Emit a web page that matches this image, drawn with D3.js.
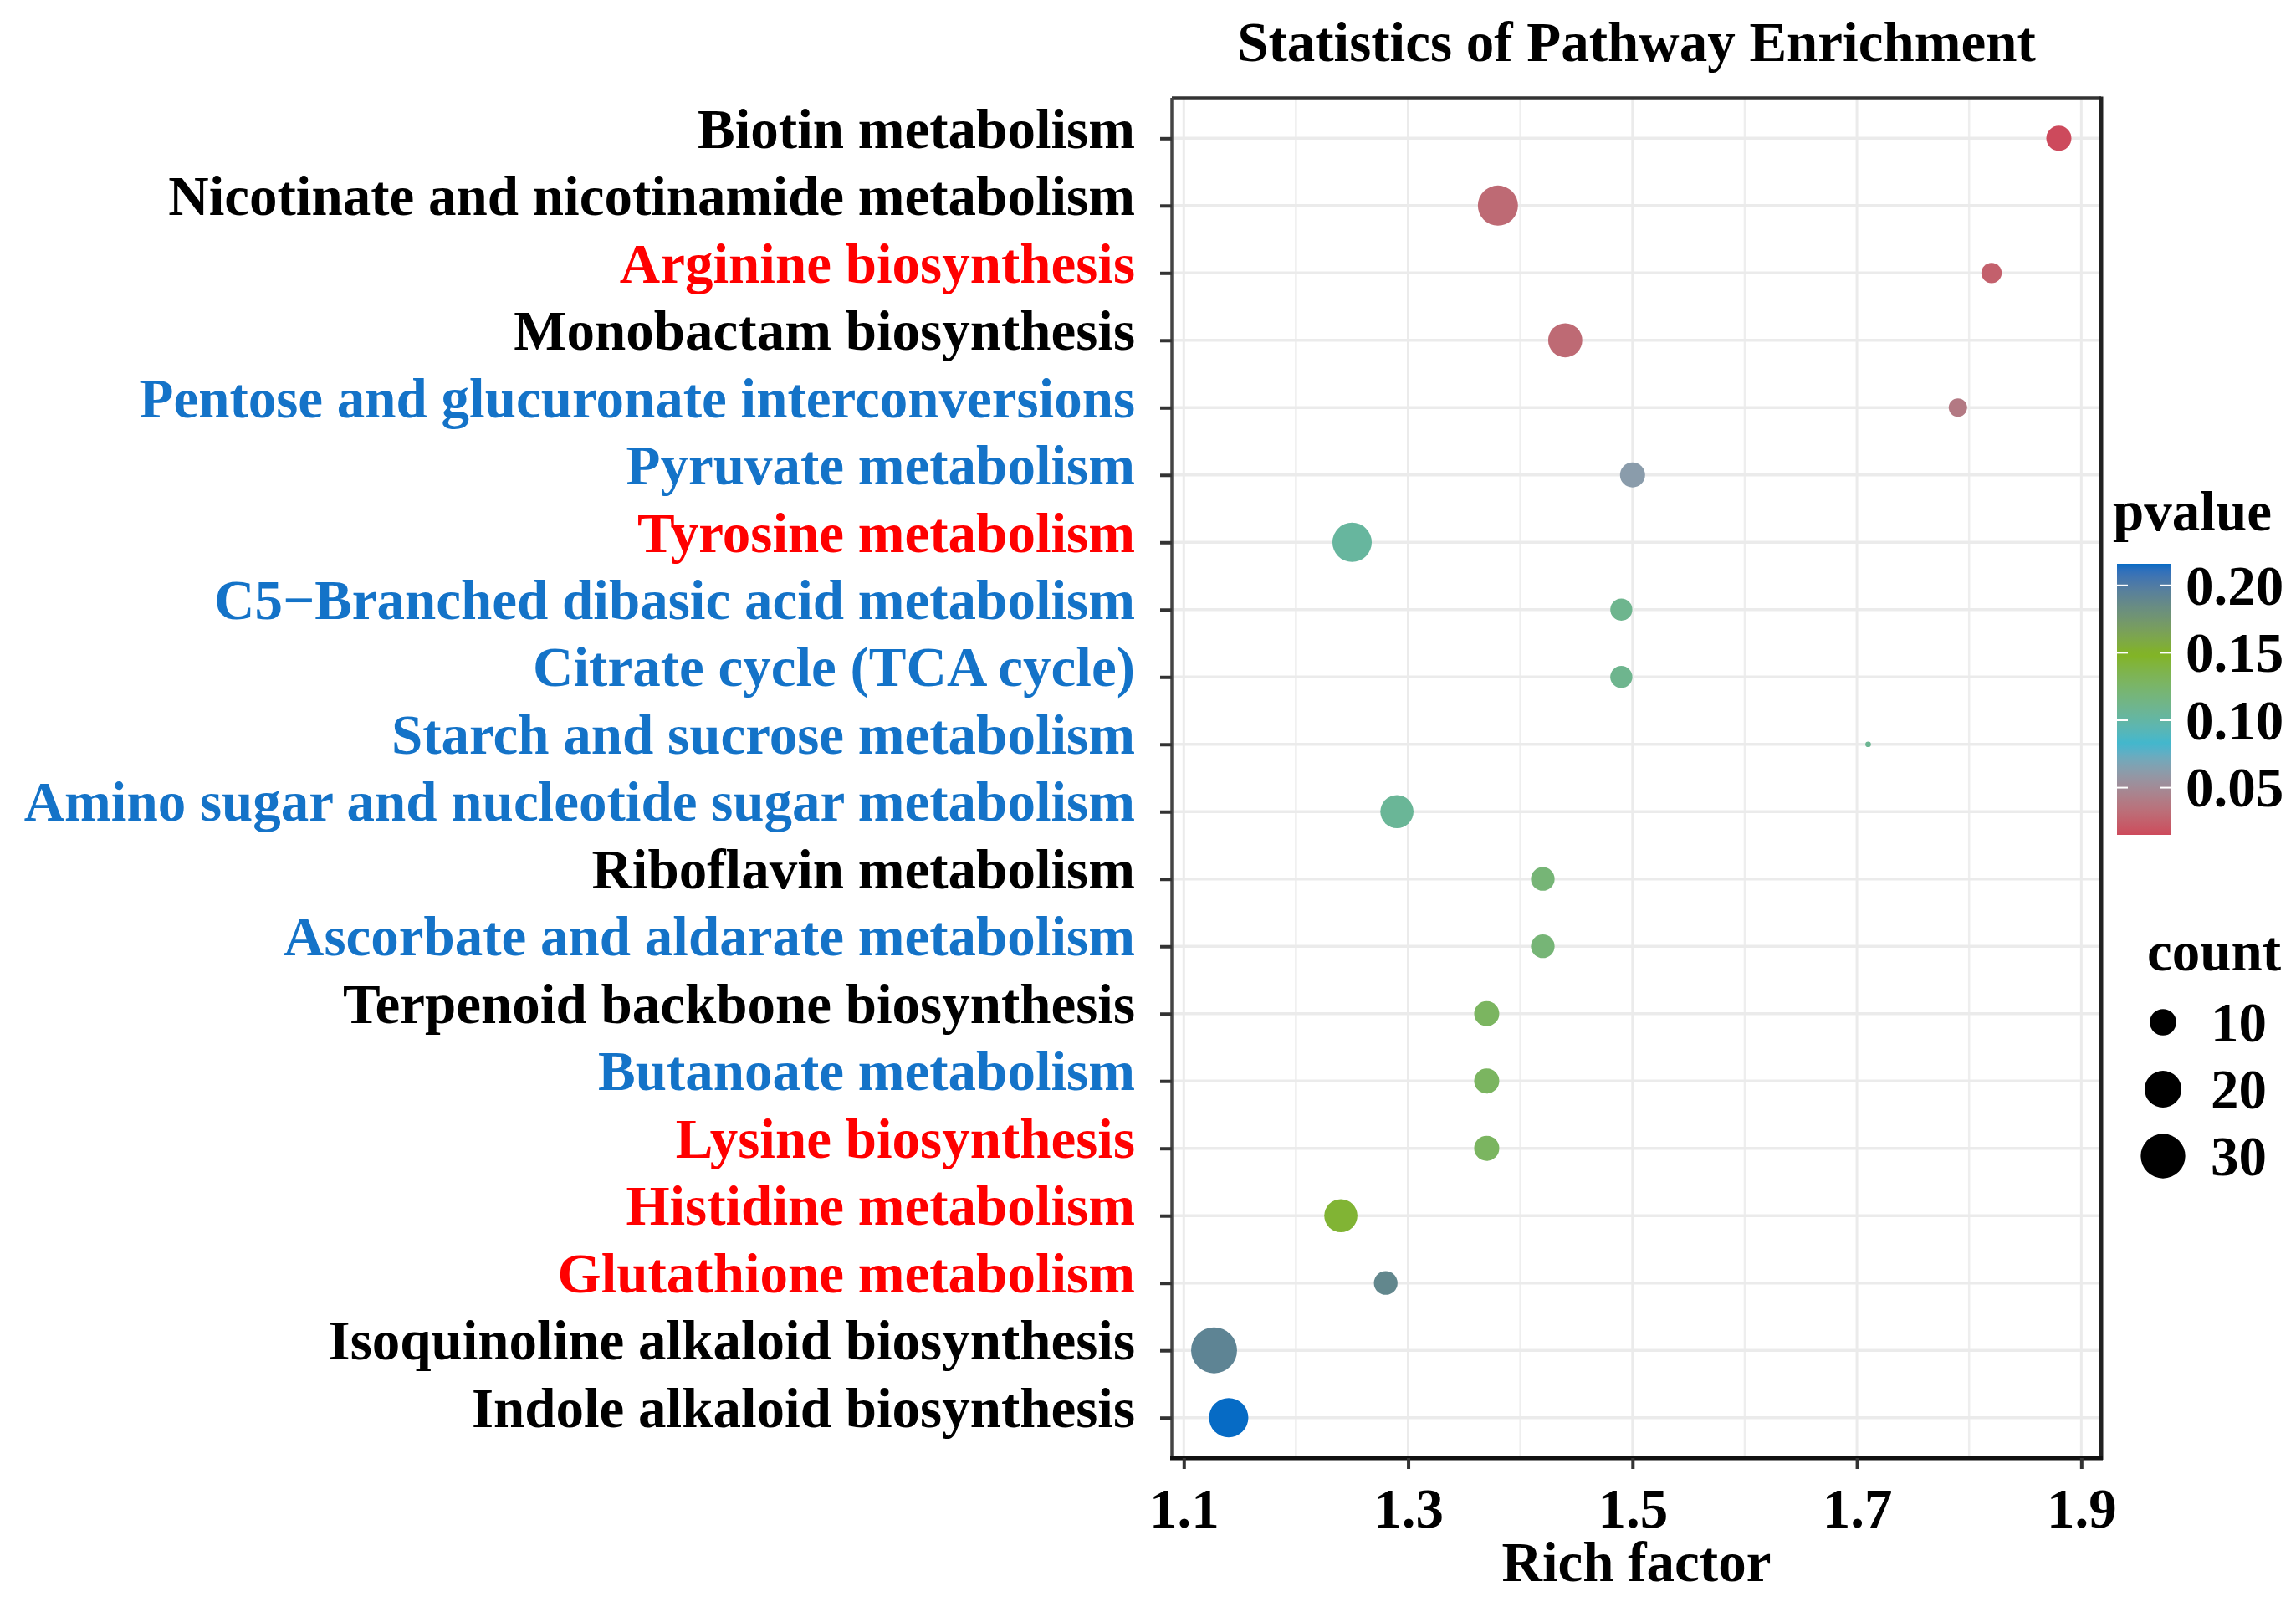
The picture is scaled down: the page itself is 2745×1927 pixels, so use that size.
<!DOCTYPE html>
<html>
<head>
<meta charset="utf-8">
<script src="https://cdn.jsdelivr.net/npm/d3@7"></script>
<style>
  html, body { margin: 0; padding: 0; background: #fff; }
  svg text { font-family: "Liberation Serif", "Times New Roman", serif; font-weight: bold; }
</style>
</head>
<body>
<div id="chart"></div>
<script>
// 数据
const pathways = [
  'Biotin metabolism',
  'Nicotinate and nicotinamide metabolism',
  'Arginine biosynthesis',
  'Monobactam biosynthesis',
  'Pentose and glucuronate interconversions',
  'Pyruvate metabolism',
  'Tyrosine metabolism',
  'C5\u2212Branched dibasic acid metabolism',
  'Citrate cycle (TCA cycle)',
  'Starch and sucrose metabolism',
  'Amino sugar and nucleotide sugar metabolism',
  'Riboflavin metabolism',
  'Ascorbate and aldarate metabolism',
  'Terpenoid backbone biosynthesis',
  'Butanoate metabolism',
  'Lysine biosynthesis',
  'Histidine metabolism',
  'Glutathione metabolism',
  'Isoquinoline alkaloid biosynthesis',
  'Indole alkaloid biosynthesis'
];
const richFactor = [1.88, 1.38, 1.82, 1.44, 1.79, 1.50, 1.25, 1.49, 1.49, 1.71,
                    1.29, 1.42, 1.42, 1.37, 1.37, 1.37, 1.24, 1.28, 1.127, 1.14];
const pvalues = [0.015, 0.030, 0.025, 0.030, 0.039, 0.062, 0.103, 0.110, 0.110, 0.108,
                 0.106, 0.120, 0.120, 0.129, 0.129, 0.129, 0.144, 0.189, 0.192, 0.216];
const counts = [9, 24, 6, 17, 5, 9, 23, 7, 7, 2,
                16, 8, 8, 9, 9, 9, 16, 8, 32, 23];
// 标签颜色分组: k 黑, r 红, b 蓝
const labelGroup = ['k', 'k', 'r', 'k', 'b', 'b', 'r', 'b', 'b', 'b',
                    'b', 'k', 'b', 'k', 'b', 'r', 'r', 'r', 'k', 'k'];
const xTicks = [1.1, 1.3, 1.5, 1.7, 1.9];
const xMinor = [1.2, 1.4, 1.6, 1.8];
const pTicks = [0.05, 0.10, 0.15, 0.20];
const countBreaks = [10, 20, 30];
const gradientColors = ['#CD4A5C', '#3FB7CF', '#82B420', '#066BC5'];

// 画布与布局
const W = 2745, H = 1927;
const panel = { left: 1401, right: 2512, top: 117, bottom: 1743 };
const fontSize = 67;
const labelColor = { k: '#000000', r: '#FF0000', b: '#1473C8' };

const rows = pathways.map((name, i) => ({
  name, rf: richFactor[i], p: pvalues[i], count: counts[i], group: labelGroup[i]
}));

const svg = d3.select('#chart').append('svg')
  .attr('width', W).attr('height', H)
  .style('display', 'block');

// 比例尺
const [rfMin, rfMax] = d3.extent(richFactor);
const pad = (rfMax - rfMin) * 0.05;
const x = d3.scaleLinear()
  .domain([rfMin - pad, rfMax + pad])
  .range([panel.left, panel.right]);

const y = d3.scalePoint()
  .domain(pathways)
  .range([panel.top, panel.bottom])
  .padding(0.6);

const [pMin, pMax] = d3.extent(pvalues);
const color = d3.scaleLinear()
  .domain(d3.range(4).map(k => pMin + (pMax - pMin) * k / 3))
  .range(gradientColors)
  .interpolate(d3.interpolateLab);

const [cMin, cMax] = d3.extent(counts);
const sizeScale = d3.scaleSqrt()
  .domain([0, cMax - cMin])
  .range([3.35, 27.45]);
const radius = c => sizeScale(Math.max(0, c - cMin));

// 网格
const grid = svg.append('g');
grid.selectAll('.minor')
  .data(xMinor).enter().append('line')
  .attr('x1', d => x(d)).attr('x2', d => x(d))
  .attr('y1', panel.top).attr('y2', panel.bottom)
  .attr('stroke', '#eeeeee').attr('stroke-width', 2.5);
grid.selectAll('.major')
  .data(xTicks).enter().append('line')
  .attr('x1', d => x(d)).attr('x2', d => x(d))
  .attr('y1', panel.top).attr('y2', panel.bottom)
  .attr('stroke', '#ebebeb').attr('stroke-width', 3);
grid.selectAll('.hline')
  .data(pathways).enter().append('line')
  .attr('x1', panel.left).attr('x2', panel.right)
  .attr('y1', d => y(d)).attr('y2', d => y(d))
  .attr('stroke', '#ebebeb').attr('stroke-width', 3.5);

// 气泡
svg.append('g').selectAll('circle')
  .data(rows).enter().append('circle')
  .attr('cx', d => x(d.rf))
  .attr('cy', d => y(d.name))
  .attr('r', d => radius(d.count))
  .attr('fill', d => color(d.p));

// 边框
const border = svg.append('g').attr('fill', 'none');
border.append('line')
  .attr('x1', panel.left).attr('x2', panel.right)
  .attr('y1', panel.top).attr('y2', panel.top)
  .attr('stroke', '#333').attr('stroke-width', 3.5);
border.append('line')
  .attr('x1', panel.left).attr('x2', panel.left)
  .attr('y1', panel.top).attr('y2', panel.bottom)
  .attr('stroke', '#444').attr('stroke-width', 3.5);
border.append('line')
  .attr('x1', panel.right).attr('x2', panel.right)
  .attr('y1', panel.top - 1.5).attr('y2', panel.bottom + 2)
  .attr('stroke', '#222').attr('stroke-width', 5);

// X 轴
const xAxis = svg.append('g')
  .attr('transform', `translate(0,${panel.bottom})`)
  .call(d3.axisBottom(x).tickValues(xTicks).tickSize(13).tickPadding(22)
    .tickFormat(d3.format('.1f')));
xAxis.select('.domain')
  .attr('d', `M${panel.left - 2},0H${panel.right + 2}`)
  .attr('stroke', '#111').attr('stroke-width', 5);
xAxis.selectAll('.tick line').attr('stroke', '#333').attr('stroke-width', 4);
xAxis.selectAll('.tick text')
  .attr('fill', '#000')
  .style('font-size', fontSize + 'px')
  .attr('dy', '0.71em');

// Y 轴
const yAxis = svg.append('g')
  .attr('transform', `translate(${panel.left},0)`)
  .call(d3.axisLeft(y).tickSize(14).tickPadding(30));
yAxis.select('.domain').remove();
yAxis.selectAll('.tick line').attr('stroke', '#333').attr('stroke-width', 4);
yAxis.selectAll('.tick text')
  .style('font-size', fontSize + 'px')
  .attr('dy', '0.16em')
  .attr('fill', (d, i) => labelColor[labelGroup[i]]);

// 标题
svg.append('text')
  .attr('x', (panel.left + panel.right) / 2)
  .attr('y', 73)
  .attr('text-anchor', 'middle')
  .style('font-size', fontSize + 'px')
  .text('Statistics of Pathway Enrichment');

svg.append('text')
  .attr('x', (panel.left + panel.right) / 2)
  .attr('y', 1890)
  .attr('text-anchor', 'middle')
  .style('font-size', fontSize + 'px')
  .text('Rich factor');

// 图例: pvalue 色条
const bar = { x: 2531, w: 65, top: 674, bottom: 998 };
svg.append('text')
  .attr('x', 2526).attr('y', 634)
  .style('font-size', fontSize + 'px')
  .text('pvalue');

const grad = svg.append('defs').append('linearGradient')
  .attr('id', 'pgrad')
  .attr('x1', 0).attr('y1', 1).attr('x2', 0).attr('y2', 0);
grad.selectAll('stop')
  .data(d3.range(0, 1.0001, 0.02)).enter().append('stop')
  .attr('offset', t => t)
  .attr('stop-color', t => color(pMin + (pMax - pMin) * t));

svg.append('rect')
  .attr('x', bar.x).attr('y', bar.top)
  .attr('width', bar.w).attr('height', bar.bottom - bar.top)
  .attr('fill', 'url(#pgrad)');

const pScale = d3.scaleLinear().domain([pMin, pMax]).range([bar.bottom, bar.top]);
const pt = svg.append('g');
pt.selectAll('.tl').data(pTicks).enter().append('line')
  .attr('x1', bar.x).attr('x2', bar.x + 13)
  .attr('y1', d => pScale(d)).attr('y2', d => pScale(d))
  .attr('stroke', '#fff').attr('stroke-width', 2);
pt.selectAll('.tr').data(pTicks).enter().append('line')
  .attr('x1', bar.x + bar.w - 13).attr('x2', bar.x + bar.w)
  .attr('y1', d => pScale(d)).attr('y2', d => pScale(d))
  .attr('stroke', '#fff').attr('stroke-width', 2);
pt.selectAll('text').data(pTicks).enter().append('text')
  .attr('x', 2613)
  .attr('y', d => pScale(d))
  .attr('dy', '0.34em')
  .style('font-size', fontSize + 'px')
  .text(d3.format('.2f'));

// 图例: count
svg.append('text')
  .attr('x', 2567).attr('y', 1160)
  .style('font-size', fontSize + 'px')
  .text('count');

const keyY = d3.scalePoint().domain(countBreaks).range([1222, 1382]);
const keys = svg.append('g').selectAll('g')
  .data(countBreaks).enter().append('g')
  .attr('transform', d => `translate(2586,${keyY(d)})`);
keys.append('circle')
  .attr('r', d => radius(d))
  .attr('fill', '#000');
keys.append('text')
  .attr('x', 57)
  .attr('dy', '0.34em')
  .style('font-size', fontSize + 'px')
  .text(d => d);
</script>
</body>
</html>
